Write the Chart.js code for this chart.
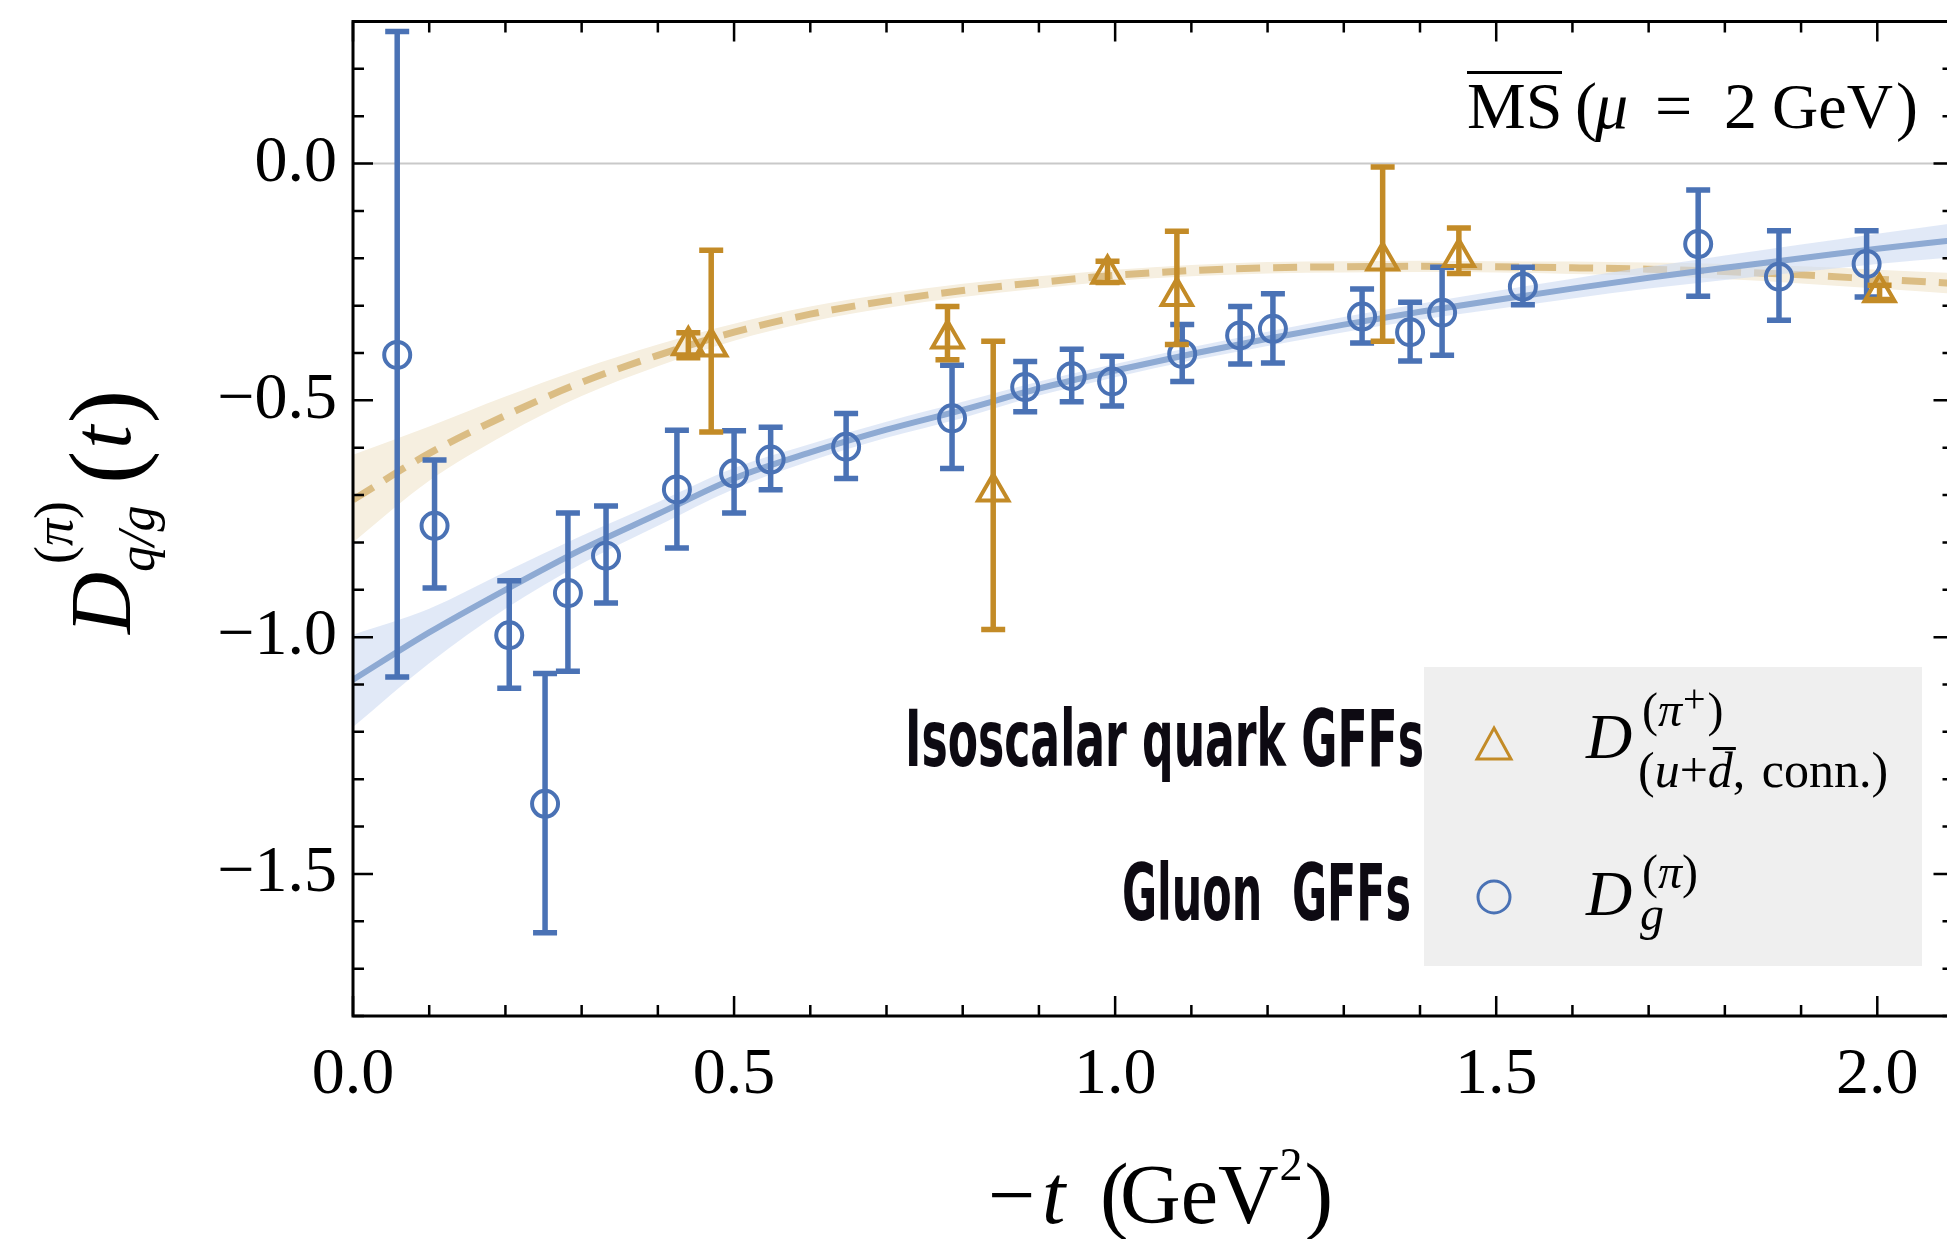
<!DOCTYPE html>
<html>
<head>
<meta charset="utf-8">
<script src="https://cdn.jsdelivr.net/npm/chart.js@4.4.1/dist/chart.umd.min.js"></script>
<style>
  html, body { margin: 0; padding: 0; background: #fff; width: 1947px; height: 1239px; overflow: hidden; }
  #wrap { position: absolute; left: 0; top: 0; width: 1975px; height: 1239px; }
</style>
</head>
<body>
<div id="wrap"><canvas id="myChart"></canvas></div>
<script>
// fit curves at -t = 0.0 ... 2.1
const fitT = [0, 0.1, 0.2, 0.3, 0.4, 0.5, 0.6, 0.7, 0.8, 0.9, 1.0, 1.1, 1.2, 1.3, 1.4, 1.5, 1.6, 1.7, 1.8, 1.9, 2.0, 2.1];
const gluonFit    = [-1.09, -0.99, -0.90, -0.815, -0.74, -0.665, -0.61, -0.562, -0.52, -0.475, -0.437, -0.402, -0.370, -0.340, -0.313, -0.288, -0.264, -0.241, -0.220, -0.200, -0.180, -0.162];
const gluonBandHi = [-0.995, -0.94, -0.862, -0.786, -0.715, -0.643, -0.592, -0.545, -0.503, -0.46, -0.423, -0.388, -0.355, -0.324, -0.296, -0.269, -0.243, -0.218, -0.194, -0.171, -0.148, -0.126];
const gluonBandLo = [-1.19, -1.055, -0.94, -0.845, -0.765, -0.687, -0.628, -0.579, -0.537, -0.49, -0.451, -0.416, -0.385, -0.356, -0.330, -0.307, -0.285, -0.264, -0.246, -0.229, -0.212, -0.198];
const quarkFit    = [-0.71, -0.612, -0.532, -0.462, -0.405, -0.356, -0.318, -0.29, -0.268, -0.251, -0.236, -0.226, -0.220, -0.218, -0.217, -0.218, -0.220, -0.223, -0.228, -0.235, -0.244, -0.253];
const quarkBandHi = [-0.615, -0.555, -0.492, -0.433, -0.382, -0.338, -0.302, -0.275, -0.254, -0.238, -0.224, -0.214, -0.208, -0.206, -0.205, -0.206, -0.207, -0.209, -0.212, -0.217, -0.224, -0.231];
const quarkBandLo = [-0.80, -0.67, -0.572, -0.491, -0.428, -0.374, -0.334, -0.305, -0.282, -0.264, -0.248, -0.238, -0.232, -0.230, -0.229, -0.230, -0.233, -0.237, -0.244, -0.253, -0.264, -0.275];

// gluon lattice points
const gluonT  = [0.058, 0.107, 0.205, 0.252, 0.282, 0.332, 0.425, 0.500, 0.548, 0.647, 0.786, 0.882, 0.943, 0.996, 1.088, 1.164, 1.207, 1.324, 1.387, 1.429, 1.535, 1.765, 1.871, 1.986];
const gluonD  = [-0.404, -0.765, -0.996, -1.352, -0.907, -0.828, -0.688, -0.654, -0.625, -0.598, -0.538, -0.472, -0.449, -0.460, -0.402, -0.363, -0.349, -0.323, -0.356, -0.315, -0.260, -0.170, -0.239, -0.212];
const gluonLo = [-1.084, -0.896, -1.108, -1.624, -1.072, -0.928, -0.812, -0.738, -0.689, -0.665, -0.644, -0.524, -0.503, -0.512, -0.460, -0.423, -0.421, -0.379, -0.417, -0.405, -0.298, -0.280, -0.331, -0.282];
const gluonHi = [0.279, -0.626, -0.881, -1.077, -0.738, -0.723, -0.563, -0.564, -0.557, -0.528, -0.426, -0.418, -0.392, -0.407, -0.340, -0.302, -0.275, -0.265, -0.293, -0.219, -0.219, -0.056, -0.142, -0.142];

// isoscalar quark points
const quarkT  = [0.440, 0.470, 0.780, 0.840, 0.990, 1.081, 1.351, 1.451, 2.003];
const quarkD  = [-0.384, -0.387, -0.370, -0.693, -0.233, -0.280, -0.205, -0.198, -0.272];
const quarkLo = [-0.410, -0.567, -0.414, -0.984, -0.251, -0.382, -0.375, -0.232, -0.287];
const quarkHi = [-0.357, -0.183, -0.302, -0.375, -0.206, -0.143, -0.007, -0.136, -0.257];

// axes
const xMajor = [0, 0.5, 1.0, 1.5, 2.0];
const xLabels = ['0.0', '0.5', '1.0', '1.5', '2.0'];
const yMajor = [0, -0.5, -1.0, -1.5];
const yLabels = ['0.0', '\u22120.5', '\u22121.0', '\u22121.5'];
const xMinor = [];
for (let i = 0; i <= 21; i++) xMinor.push(i / 10);
const yMinor = [];
for (let i = -18; i <= 3; i++) yMinor.push(i / 10);

const BLUE = '#4a72b5';
const ORANGE = '#c38b27';
const SERIF = "'Liberation Serif', 'Times New Roman', serif";
const BOLD = "'DejaVu Sans Condensed', 'Liberation Sans Narrow', 'DejaVu Sans', sans-serif";

function pts(xs, ys) {
  return xs.map((x, i) => ({ x: x, y: ys[i] }));
}

function labelFor(v, majors, labels) {
  for (let i = 0; i < majors.length; i++) {
    if (Math.abs(v - majors[i]) < 1e-6) return labels[i];
  }
  return '';
}

function isMajor(v) {
  return Math.abs(v * 2 - Math.round(v * 2)) < 1e-6;
}

// draw text, return x after it
function txt(ctx, s, x, y, font) {
  ctx.font = font;
  ctx.fillText(s, x, y);
  return x + ctx.measureText(s).width;
}

// squeeze text into a given width (condensed bold labels)
function fitText(ctx, s, x, y, w, font) {
  ctx.font = font;
  const m = ctx.measureText(s).width;
  ctx.save();
  ctx.translate(x, y);
  ctx.scale(w / m, 1);
  ctx.fillText(s, 0, 0);
  ctx.restore();
}

function drawErrorBars(chart, ts, lo, hi, color) {
  const ctx = chart.ctx;
  const xs = chart.scales.x, ys = chart.scales.y;
  ctx.save();
  ctx.strokeStyle = color;
  ctx.lineWidth = 5.5;
  ctx.lineCap = 'butt';
  for (let i = 0; i < ts.length; i++) {
    const px = xs.getPixelForValue(ts[i]);
    const y1 = ys.getPixelForValue(lo[i]);
    const y2 = ys.getPixelForValue(hi[i]);
    ctx.beginPath();
    ctx.moveTo(px, y1);
    ctx.lineTo(px, y2);
    ctx.moveTo(px - 12, y1);
    ctx.lineTo(px + 12, y1);
    ctx.moveTo(px - 12, y2);
    ctx.lineTo(px + 12, y2);
    ctx.stroke();
  }
  ctx.restore();
}

const decorPlugin = {
  id: 'decor',
  beforeDatasetsDraw(chart) {
    const ctx = chart.ctx, a = chart.chartArea;
    const y0 = chart.scales.y.getPixelForValue(0);
    ctx.save();
    ctx.strokeStyle = '#c9c9c9';
    ctx.lineWidth = 2;
    ctx.beginPath();
    ctx.moveTo(a.left, y0);
    ctx.lineTo(a.right, y0);
    ctx.stroke();
    ctx.restore();
  },
  afterDatasetDraw(chart, args) {
    const label = chart.data.datasets[args.index].label;
    if (label === 'gluon') drawErrorBars(chart, gluonT, gluonLo, gluonHi, BLUE);
    if (label === 'quark') drawErrorBars(chart, quarkT, quarkLo, quarkHi, ORANGE);
  },
  afterDraw(chart) {
    const ctx = chart.ctx, a = chart.chartArea;
    const xs = chart.scales.x, ys = chart.scales.y;
    ctx.save();

    // frame
    ctx.strokeStyle = '#000';
    ctx.lineWidth = 3;
    ctx.strokeRect(a.left, a.top, a.right - a.left, a.bottom - a.top);

    // inward ticks on all four sides
    ctx.lineWidth = 2.5;
    ctx.beginPath();
    xMinor.forEach(v => {
      const px = xs.getPixelForValue(v);
      const len = isMajor(v) ? 20 : 11;
      ctx.moveTo(px, a.bottom); ctx.lineTo(px, a.bottom - len);
      ctx.moveTo(px, a.top); ctx.lineTo(px, a.top + len);
    });
    yMinor.forEach(v => {
      const py = ys.getPixelForValue(v);
      const len = isMajor(v) ? 20 : 11;
      ctx.moveTo(a.left, py); ctx.lineTo(a.left + len, py);
      ctx.moveTo(a.right, py); ctx.lineTo(a.right - len, py);
    });
    ctx.stroke();

    ctx.fillStyle = '#000';
    ctx.textBaseline = 'alphabetic';
    ctx.textAlign = 'left';

    // scheme annotation
    txt(ctx, 'MS', 1467, 128, `66px ${SERIF}`);
    ctx.fillRect(1467, 71, 95, 3);
    txt(ctx, '(', 1575, 128, `66px ${SERIF}`);
    txt(ctx, '\u03bc', 1595, 128, `italic 66px ${SERIF}`);
    txt(ctx, '=', 1655, 128, `66px ${SERIF}`);
    txt(ctx, '2', 1724, 128, `66px ${SERIF}`);
    txt(ctx, 'GeV', 1772, 128, `64px ${SERIF}`);
    txt(ctx, ')', 1896, 128, `66px ${SERIF}`);

    // x axis title
    txt(ctx, '\u2212', 988, 1223, `84px ${SERIF}`);
    txt(ctx, 't', 1042, 1223, `italic 84px ${SERIF}`);
    txt(ctx, '(', 1100, 1223, `86px ${SERIF}`);
    let gx = txt(ctx, 'GeV', 1120, 1223, `84px ${SERIF}`);
    txt(ctx, '2', gx + 1, 1180, `46px ${SERIF}`);
    txt(ctx, ')', gx + 26, 1223, `86px ${SERIF}`);

    // y axis title (rotated)
    ctx.save();
    ctx.translate(130, 634);
    ctx.rotate(-Math.PI / 2);
    txt(ctx, 'D', 0, 0, `italic 86px ${SERIF}`);
    let sx = txt(ctx, '(', 70, -58, `54px ${SERIF}`);
    sx = txt(ctx, '\u03c0', sx, -58, `italic 54px ${SERIF}`);
    txt(ctx, ')', sx, -58, `54px ${SERIF}`);
    txt(ctx, 'q/g', 62, 24, `italic 52px ${SERIF}`);
    let tx = txt(ctx, '(', 150, 8, `100px ${SERIF}`);
    tx = txt(ctx, 't', tx + 2, 0, `italic 84px ${SERIF}`);
    txt(ctx, ')', tx + 2, 8, `100px ${SERIF}`);
    ctx.restore();

    // legend box
    ctx.fillStyle = '#efefef';
    ctx.fillRect(1424, 667, 498, 299);
    ctx.lineWidth = 3;
    ctx.strokeStyle = ORANGE;
    ctx.lineJoin = 'miter';
    ctx.beginPath();
    ctx.moveTo(1494, 728);
    ctx.lineTo(1511, 759);
    ctx.lineTo(1477, 759);
    ctx.closePath();
    ctx.stroke();
    ctx.strokeStyle = BLUE;
    ctx.beginPath();
    ctx.arc(1494, 897, 16, 0, Math.PI * 2);
    ctx.stroke();

    ctx.fillStyle = '#000';
    // row 1: D^(pi+)_(u+dbar, conn.)
    txt(ctx, 'D', 1586, 758, `italic 64px ${SERIF}`);
    let rx = txt(ctx, '(', 1642, 726, `48px ${SERIF}`);
    rx = txt(ctx, '\u03c0', rx, 726, `italic 48px ${SERIF}`);
    rx = txt(ctx, '+', rx + 1, 712, `40px ${SERIF}`);
    txt(ctx, ')', rx + 2, 726, `48px ${SERIF}`);
    let bx = txt(ctx, '(', 1638, 787, `50px ${SERIF}`);
    bx = txt(ctx, 'u', bx, 787, `italic 50px ${SERIF}`);
    bx = txt(ctx, '+', bx, 787, `50px ${SERIF}`);
    const d0 = bx;
    bx = txt(ctx, 'd', bx, 787, `italic 50px ${SERIF}`);
    ctx.fillRect(d0 + 5, 747, bx - d0 - 2, 3);
    bx = txt(ctx, ',', bx, 787, `50px ${SERIF}`);
    txt(ctx, ' conn.)', bx + 4, 787, `50px ${SERIF}`);
    // row 2: D^(pi)_g
    txt(ctx, 'D', 1586, 915, `italic 64px ${SERIF}`);
    let qx = txt(ctx, '(', 1642, 888, `48px ${SERIF}`);
    qx = txt(ctx, '\u03c0', qx, 888, `italic 48px ${SERIF}`);
    txt(ctx, ')', qx, 888, `48px ${SERIF}`);
    txt(ctx, 'g', 1640, 930, `italic 48px ${SERIF}`);

    // bold side labels
    ctx.fillStyle = '#0d0a12';
    fitText(ctx, 'Isoscalar quark GFFs', 905, 766, 519, `bold 78px ${BOLD}`);
    fitText(ctx, 'Gluon  GFFs', 1122, 920, 289, `bold 78px ${BOLD}`);

    ctx.restore();
  }
};

const ctx = document.getElementById('myChart');
const myChart = new Chart(ctx, {
  type: 'line',
  data: {
    datasets: [
      {
        label: 'quarkBand', data: pts(fitT, quarkBandHi), fill: '+1',
        backgroundColor: '#f6efe0', borderColor: 'rgba(0,0,0,0)', borderWidth: 0,
        pointRadius: 0, cubicInterpolationMode: 'monotone', order: 10,
      },
      {
        label: 'quarkBandLo', data: pts(fitT, quarkBandLo), fill: false,
        borderColor: 'rgba(0,0,0,0)', borderWidth: 0,
        pointRadius: 0, cubicInterpolationMode: 'monotone', order: 10,
      },
      {
        label: 'quarkFit', data: pts(fitT, quarkFit), fill: false,
        borderColor: '#dbbd84', borderWidth: 7, borderDash: [24, 13],
        pointRadius: 0, cubicInterpolationMode: 'monotone', order: 9,
      },
      {
        label: 'gluonBand', data: pts(fitT, gluonBandHi), fill: '+1',
        backgroundColor: 'rgba(205,218,242,0.6)', borderColor: 'rgba(0,0,0,0)', borderWidth: 0,
        pointRadius: 0, cubicInterpolationMode: 'monotone', order: 8,
      },
      {
        label: 'gluonBandLo', data: pts(fitT, gluonBandLo), fill: false,
        borderColor: 'rgba(0,0,0,0)', borderWidth: 0,
        pointRadius: 0, cubicInterpolationMode: 'monotone', order: 8,
      },
      {
        label: 'gluonFit', data: pts(fitT, gluonFit), fill: false,
        borderColor: '#8eaad3', borderWidth: 6,
        pointRadius: 0, cubicInterpolationMode: 'monotone', order: 7,
      },
      {
        label: 'gluon', data: pts(gluonT, gluonD), showLine: false,
        pointStyle: 'circle', pointRadius: 13, pointBorderWidth: 4,
        pointBorderColor: BLUE, pointBackgroundColor: 'rgba(0,0,0,0)', order: 2,
      },
      {
        label: 'quark', data: pts(quarkT, quarkD), showLine: false,
        pointStyle: 'triangle', pointRadius: 17.5, pointBorderWidth: 4,
        pointBorderColor: ORANGE, pointBackgroundColor: 'rgba(0,0,0,0)', order: 1,
      },
    ],
  },
  plugins: [decorPlugin],
  options: {
    responsive: true,
    maintainAspectRatio: false,
    animation: false,
    events: [],
    layout: { padding: { left: 0, top: 20, right: 13, bottom: 0 } },
    plugins: {
      legend: { display: false },
      tooltip: { enabled: false },
    },
    scales: {
      x: {
        type: 'linear', min: 0, max: 2.1,
        afterBuildTicks: (s) => { s.ticks = xMinor.map(v => ({ value: v })); },
        afterFit: (s) => { s.height = 223; s.paddingLeft = 0; s.paddingRight = 0; },
        grid: { display: false, drawTicks: false },
        border: { display: false },
        ticks: {
          autoSkip: false, maxRotation: 0, padding: 20, color: '#000',
          font: { family: SERIF, size: 66 },
          callback: (v) => labelFor(v, xMajor, xLabels),
        },
      },
      y: {
        type: 'linear', min: -1.8, max: 0.3,
        afterBuildTicks: (s) => { s.ticks = yMinor.map(v => ({ value: v })); },
        afterFit: (s) => { s.width = 353; s.paddingTop = 0; s.paddingBottom = 0; },
        grid: { display: false, drawTicks: false },
        border: { display: false },
        ticks: {
          autoSkip: false, padding: 16, color: '#000',
          font: { family: SERIF, size: 66 },
          callback: (v) => labelFor(v, yMajor, yLabels),
        },
      },
    },
  },
});
</script>
</body>
</html>
